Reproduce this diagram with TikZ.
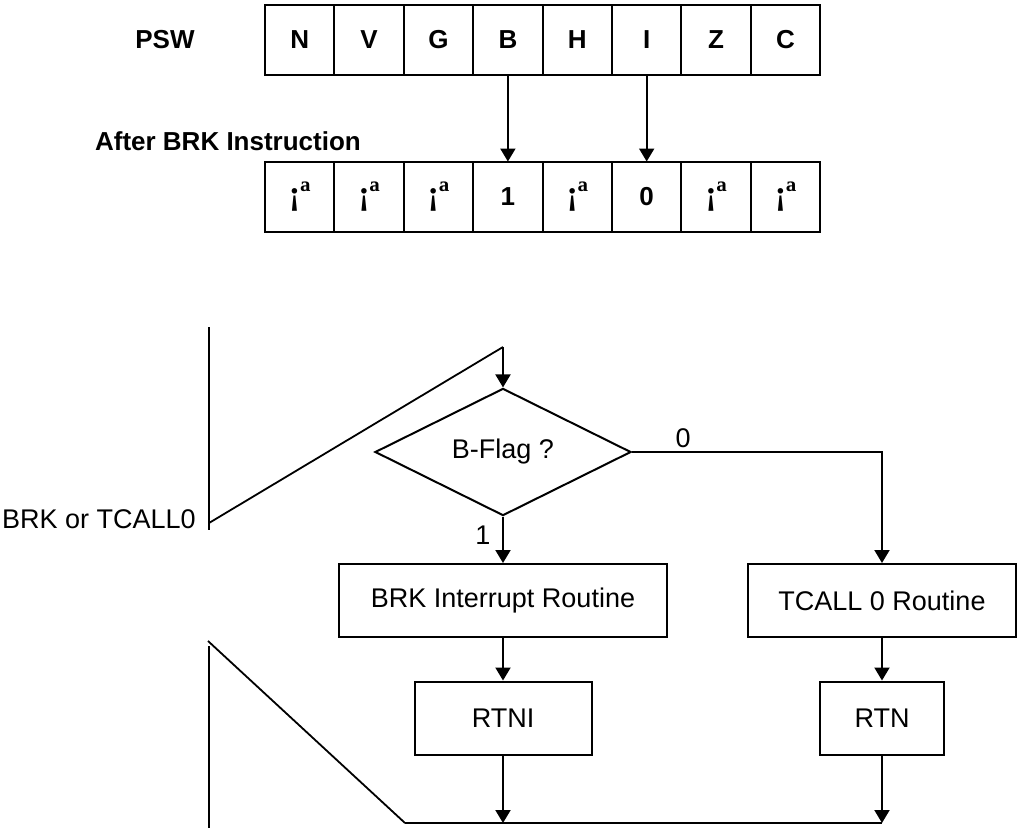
\documentclass[tikz,border=0pt]{standalone}
\usepackage{fontspec}
\setmainfont{Liberation Sans}
\newfontfamily\pswserif{Liberation Serif}
\usetikzlibrary{positioning,shapes.geometric,arrows.meta}

\begin{document}
\begin{tikzpicture}[
  x=1pt, y=-1pt,
  every node/.style={font=\fontsize{27}{31}\selectfont},
  bitcell/.style={draw, line width=2pt, outer sep=0pt, inner sep=0pt,
                  minimum width=69.4pt, minimum height=70pt,
                  font=\bfseries\fontsize{26}{30}\selectfont},
  undef/.style={font=\pswserif\bfseries\fontsize{34}{38}\selectfont},
  proc/.style={draw, line width=2pt, minimum height=73pt, inner sep=0pt},
  decision/.style={draw, diamond, line width=2pt, minimum width=256pt,
                   minimum height=118pt, inner sep=0pt},
  lbl/.style={font=\fontsize{27}{31}\selectfont, inner sep=0pt},
  hd/.style={font=\bfseries\fontsize{26}{30}\selectfont, inner sep=0pt},
  arr/.style={-{Triangle[width=15pt,length=13pt]}, line width=2pt},
  zig/.style={line width=1.8pt}
]
\useasboundingbox (0,0) rectangle (1020,828);

% PSW register
\node[hd] (psw) at (165,40) {PSW};
\node[bitcell] (fN) at (299.7,39.5) {N};
\node[bitcell, right=0pt of fN] (fV) {V};
\node[bitcell, right=0pt of fV] (fG) {G};
\node[bitcell, right=0pt of fG] (fB) {B};
\node[bitcell, right=0pt of fB] (fH) {H};
\node[bitcell, right=0pt of fH] (fI) {I};
\node[bitcell, right=0pt of fI] (fZ) {Z};
\node[bitcell, right=0pt of fZ] (fC) {C};

% after BRK
\node[hd] (after) at (228,141) {After BRK Instruction};
\node[bitcell, undef] (rN) at (299.7,196.5) {¡ª};
\node[bitcell, undef, right=0pt of rN] (rV) {¡ª};
\node[bitcell, undef, right=0pt of rV] (rG) {¡ª};
\node[bitcell, right=0pt of rG] (rB) {1};
\node[bitcell, undef, right=0pt of rB] (rH) {¡ª};
\node[bitcell, right=0pt of rH] (rI) {0};
\node[bitcell, undef, right=0pt of rI] (rZ) {¡ª};
\node[bitcell, undef, right=0pt of rZ] (rC) {¡ª};

\draw[arr] (fB) -- (rB);
\draw[arr] (fI) -- (rI);

% flow chart
\node[decision] (flag) at (503,452) {B-Flag ?};
\node[proc, minimum width=328pt] (brk)   at (503,600.5) {BRK Interrupt Routine};
\node[proc, minimum width=268pt] (tcall) at (882,600.5) {TCALL 0 Routine};
\node[proc, minimum width=177pt] (rtni)  at (503,718)   {RTNI};
\node[proc, minimum width=124pt] (rtn)   at (882,718)   {RTN};

\node[lbl, anchor=east] (entry) at (196,519) {BRK or TCALL0};
\node[lbl] (lzero) at (683,438) {0};
\node[lbl] (lone)  at (483,535) {1};

\coordinate (inTop) at (209,327);
\coordinate (inBot) at (209,530);
\coordinate (inA)   at (209,523);
\coordinate (inB)   at (503,347);
\coordinate (outTop) at (209,646);
\coordinate (outBot) at (209,828);
\coordinate (outA)  at (208,641);
\coordinate (outB)  at (405,823);
\coordinate (joinR) at (882,823);

\draw[zig] (inTop) -- (inBot);
\draw[zig] (inA) -- (inB);
\draw[arr] (inB) -- (flag.north);
\draw[arr] (flag.south) -- (brk);
\draw[arr] (flag.east) -| (tcall);
\draw[arr] (brk) -- (rtni);
\draw[arr] (tcall) -- (rtn);
\draw[arr] (rtni) -- (rtni |- outB);
\draw[arr] (rtn) -- (joinR);
\draw[line width=2pt] (outB) -- (joinR);
\draw[zig] (outA) -- (outB);
\draw[zig] (outTop) -- (outBot);

\end{tikzpicture}
\end{document}
